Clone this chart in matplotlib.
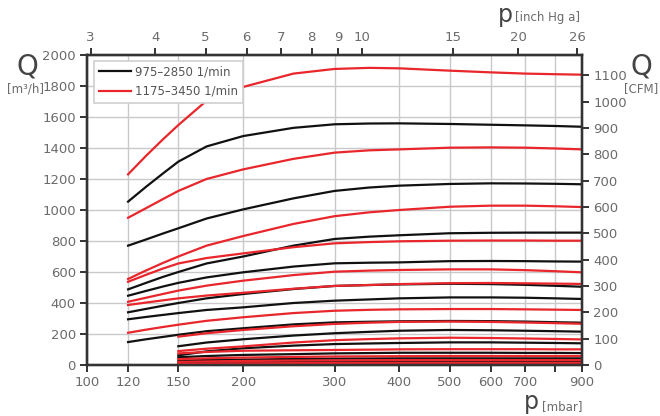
import matplotlib
matplotlib.use("Agg")
import matplotlib.pyplot as plt
from matplotlib.ticker import FixedLocator, NullLocator, FixedFormatter
from matplotlib.lines import Line2D

plt.rcParams['font.family'] = ['DejaVu Sans']

MBAR_PER_INHG = 33.8639
M3H_PER_CFM = 1.69901

# suction pressure points [mbar]
p_long = [120, 130, 140, 150, 170, 200, 250, 300, 350, 400, 500, 600, 700, 800, 900]
p_short = [150, 170, 200, 250, 300, 350, 400, 500, 600, 700, 800, 900]

# pumping speed curves [m3/h] -- long range (from 120 mbar)
q_a_red = [1230, 1350, 1455, 1548, 1705, 1794, 1880, 1910, 1917, 1914, 1899, 1888, 1880, 1876, 1873]
q_b_blk = [1054, 1150, 1235, 1312, 1410, 1477, 1530, 1553, 1558, 1559, 1555, 1550, 1546, 1542, 1537]
q_c_red = [950, 1012, 1070, 1123, 1200, 1262, 1330, 1370, 1385, 1391, 1402, 1404, 1402, 1397, 1391]
q_d_blk = [770, 810, 848, 882, 945, 1004, 1075, 1123, 1145, 1157, 1168, 1172, 1171, 1169, 1166]
q_e_red = [555, 610, 658, 700, 770, 832, 910, 960, 985, 1000, 1021, 1028, 1028, 1024, 1019]
q_f_blk = [488, 530, 568, 600, 655, 700, 770, 813, 828, 837, 850, 853, 854, 854, 854]
q_g_red = [537, 582, 622, 655, 690, 720, 760, 785, 793, 798, 802, 803, 803, 802, 802]
q_h_blk = [447, 478, 506, 530, 565, 598, 635, 656, 660, 662, 670, 671, 670, 668, 667]
q_i_red = [408, 434, 458, 480, 512, 544, 580, 602, 609, 613, 617, 617, 612, 605, 598]
q_j_red = [387, 403, 417, 430, 448, 466, 492, 510, 516, 522, 528, 529, 527, 525, 523]
q_k_blk = [340, 362, 382, 400, 430, 458, 490, 510, 516, 520, 524, 522, 517, 511, 505]
q_l_blk = [295, 310, 323, 335, 355, 372, 400, 415, 423, 430, 436, 436, 434, 430, 426]
q_m_red = [208, 228, 245, 260, 285, 308, 335, 350, 356, 359, 361, 361, 359, 357, 355]
q_n_blk = [148, 166, 181, 195, 218, 237, 262, 275, 279, 282, 284, 283, 280, 276, 273]

# short range (from 150 mbar)
q_o_red = [183, 205, 226, 250, 265, 273, 278, 280, 278, 274, 270, 266]
q_p_blk = [121, 145, 166, 190, 205, 214, 221, 226, 224, 221, 218, 215]
q_q_red = [90, 105, 120, 145, 160, 167, 172, 176, 174, 171, 168, 165]
q_r_blk = [62, 88, 108, 125, 135, 139, 142, 146, 146, 144, 142, 140]
q_s_red = [75, 84, 92, 95, 97, 99, 101, 102, 102, 102, 101, 101]
q_t_blk = [50, 58, 65, 70, 75, 77, 79, 79, 79, 78, 78, 77]
q_u_red = [38, 43, 48, 52, 55, 56, 57, 58, 58, 58, 58, 58]
q_v_blk = [28, 32, 35, 39, 41, 42, 43, 43, 43, 43, 43, 43]
q_w_red = [20, 23, 26, 29, 30, 31, 32, 32, 32, 32, 32, 32]
q_x_blk = [13, 15, 17, 19, 20, 20, 21, 21, 21, 21, 21, 21]
q_y_red = [8, 10, 11, 12, 13, 13, 14, 14, 14, 14, 14, 14]
q_z_blk = [5, 6, 7, 8, 8, 9, 9, 9, 9, 9, 9, 9]

black_long = [q_b_blk, q_d_blk, q_f_blk, q_h_blk, q_k_blk, q_l_blk, q_n_blk]
red_long = [q_a_red, q_c_red, q_e_red, q_g_red, q_i_red, q_j_red, q_m_red]
black_short = [q_p_blk, q_r_blk, q_t_blk, q_v_blk, q_x_blk, q_z_blk]
red_short = [q_o_red, q_q_red, q_s_red, q_u_red, q_w_red, q_y_red]

legend_labels = ["975\u20132850 1/min", "1175\u20133450 1/min"]

x_ticks = [100, 120, 150, 200, 300, 400, 500, 600, 700, 800, 900]
x_labels = ["100", "120", "150", "200", "300", "400", "500", "600", "700", "", "900"]
top_ticks = [3, 4, 5, 6, 7, 8, 9, 10, 15, 20, 26]
y_ticks = list(range(0, 2001, 200))
cfm_ticks = list(range(0, 1101, 100))

BLACK = "#111111"
RED = "#e8262b"
GRID = "#c9c9cc"
SPINE = "#333333"
TXT = "#6b6b6b"

W, H = 660, 416
fig = plt.figure(figsize=(W / 100, H / 100), dpi=100)
L, R, T, B = 87, 582, 55, 365
ax = fig.add_axes([L / W, 1 - B / H, (R - L) / W, (B - T) / H])

ax.set_xscale("log")
ax.set_xlim(100, 900)
ax.set_ylim(0, 2000)

ax.xaxis.set_major_locator(FixedLocator(x_ticks))
ax.xaxis.set_major_formatter(FixedFormatter(x_labels))
ax.xaxis.set_minor_locator(NullLocator())
ax.yaxis.set_major_locator(FixedLocator(y_ticks))
ax.yaxis.set_minor_locator(NullLocator())

ax.grid(True, color=GRID, linewidth=1.0, zorder=0)
ax.set_axisbelow(True)

lw = 1.6
for q in black_long:
    ax.plot(p_long, q, color=BLACK, lw=lw, zorder=3, solid_joinstyle="round")
for q in red_long:
    ax.plot(p_long, q, color=RED, lw=lw, zorder=3, solid_joinstyle="round")
for q in black_short:
    ax.plot(p_short, q, color=BLACK, lw=lw, zorder=3, solid_joinstyle="round")
for q in red_short:
    ax.plot(p_short, q, color=RED, lw=lw, zorder=3, solid_joinstyle="round")

for s in ax.spines.values():
    s.set_color(SPINE)
    s.set_linewidth(1.6)

TS = 9.5
ax.tick_params(axis="both", direction="out", length=5, width=1.4,
               color=SPINE, labelcolor=TXT, labelsize=TS, pad=3)

# top axis in inch Hg
axt = ax.twiny()
axt.set_xscale("log")
axt.set_xlim(100 / MBAR_PER_INHG, 900 / MBAR_PER_INHG)
axt.xaxis.set_major_locator(FixedLocator(top_ticks))
axt.xaxis.set_major_formatter(FixedFormatter([str(t) for t in top_ticks]))
axt.xaxis.set_minor_locator(NullLocator())
axt.tick_params(axis="x", direction="out", length=5, width=1.4,
                color=SPINE, labelcolor=TXT, labelsize=TS, pad=3)

# right axis in CFM
axr = ax.twinx()
axr.set_ylim(0, 2000 / M3H_PER_CFM)
axr.yaxis.set_major_locator(FixedLocator(cfm_ticks))
axr.yaxis.set_minor_locator(NullLocator())
axr.tick_params(axis="y", direction="out", length=5, width=1.4,
                color=SPINE, labelcolor=TXT, labelsize=TS, pad=3)
for a in (axt, axr):
    for s in a.spines.values():
        s.set_color(SPINE)
        s.set_linewidth(1.6)

handles = [Line2D([], [], color=BLACK, lw=lw), Line2D([], [], color=RED, lw=lw)]
leg = ax.legend(handles, legend_labels, loc="upper left",
                bbox_to_anchor=(0.014, 0.982), fontsize=8.5, frameon=True,
                fancybox=False, edgecolor="#cfcfcf", framealpha=1.0,
                handlelength=2.7, handletextpad=0.4, borderpad=0.4,
                borderaxespad=0.0, labelspacing=0.55)
for t in leg.get_texts():
    t.set_color("#555555")
leg.get_frame().set_linewidth(1.2)
leg.set_zorder(10)


def ftext(x, y, s, **kw):
    fig.text(x / W, 1 - y / H, s, **kw)


ftext(27, 66, "Q", fontsize=20, color="#444444", ha="center", va="center")
ftext(25, 89, "[m\u00b3/h]", fontsize=8.5, color=TXT, ha="center", va="center")
ftext(641, 66, "Q", fontsize=20, color="#444444", ha="center", va="center")
ftext(641, 89, "[CFM]", fontsize=8.5, color=TXT, ha="center", va="center")
ftext(531, 409, "p", fontsize=17, color="#444444", ha="center", va="baseline")
ftext(542, 407, "[mbar]", fontsize=8.5, color=TXT, ha="left", va="center")
ftext(505, 22, "p", fontsize=17, color="#444444", ha="center", va="baseline")
ftext(515, 18, "[inch Hg a]", fontsize=8.5, color=TXT, ha="left", va="center")

fig.savefig("out.png", dpi=100)
